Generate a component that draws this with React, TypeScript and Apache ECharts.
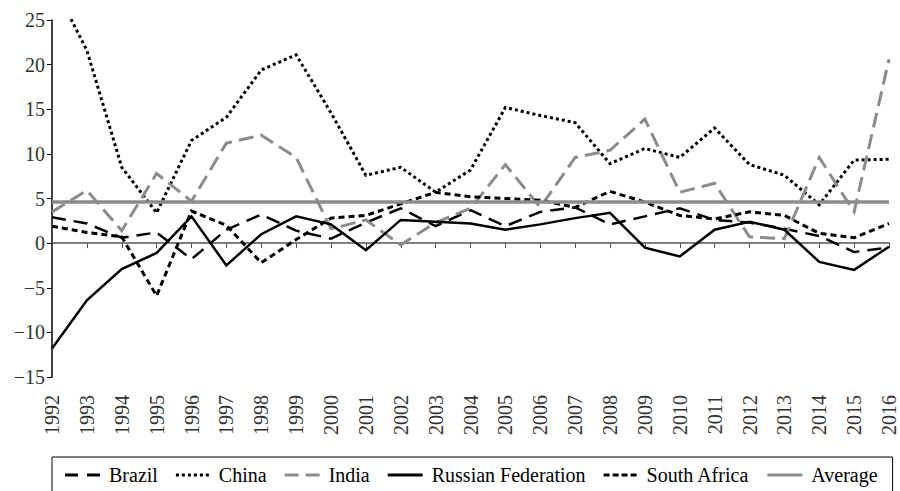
import React, { useEffect, useRef } from "react";
import * as echarts from "echarts";

const years = ["1992","1993","1994","1995","1996","1997","1998","1999","2000","2001","2002","2003","2004","2005","2006","2007","2008","2009","2010","2011","2012","2013","2014","2015","2016"];
const brazil = [2.9, 2.2, 0.6, 1.2, -1.8, 1.5, 3.2, 1.4, 0.5, 2.3, 3.9, 1.9, 3.7, 1.9, 3.5, 4.0, 2.1, 3.0, 3.9, 2.6, 2.3, 1.6, 0.8, -1.0, -0.5];
const china = [29.3, 21.6, 8.5, 3.4, 11.5, 14.1, 19.4, 21.1, 14.6, 7.6, 8.5, 5.7, 8.2, 15.2, 14.3, 13.5, 8.9, 10.6, 9.6, 12.9, 8.8, 7.6, 4.3, 9.3, 9.4];
const india = [3.5, 5.9, 1.4, 7.8, 4.7, 11.2, 12.1, 9.6, 1.6, 2.6, -0.2, 2.3, 3.9, 8.8, 4.0, 9.6, 10.4, 13.9, 5.7, 6.7, 0.7, 0.5, 9.6, 3.5, 20.6];
const russia = [-11.8, -6.4, -2.9, -1.1, 3.0, -2.5, 1.0, 3.0, 2.1, -0.8, 2.6, 2.4, 2.2, 1.5, 2.1, 2.8, 3.4, -0.5, -1.5, 1.5, 2.4, 1.5, -2.1, -3.0, -0.4];
const southAfrica = [1.9, 1.2, 0.7, -5.9, 3.6, 2.0, -2.2, 0.4, 2.8, 3.1, 4.4, 5.7, 5.2, 5.0, 4.8, 4.0, 5.8, 4.6, 3.1, 2.7, 3.5, 3.1, 1.1, 0.6, 2.2];
const average = years.map(() => 4.6);

const FONT = "'Liberation Serif', 'Times New Roman', serif";

const ICON_BRAZIL = "path://M0,0h13v3h-13z M22,0h13v3h-13z";
const ICON_CHINA = "path://M0,0h3v3h-3z M6,0h3v3h-3z M12,0h3v3h-3z M18,0h3v3h-3z M24,0h3v3h-3z M30,0h3v3h-3z";
const ICON_INDIA = "path://M0,0h14v3h-14z M21,0h14v3h-14z";
const ICON_SOLID = "path://M0,0h35v3h-35z";
const ICON_SA = "path://M0,0h6v3h-6z M9,0h6v3h-6z M18,0h6v3h-6z M27,0h6v3h-6z";

export default function App() {
  const ref = useRef<HTMLDivElement>(null);
  useEffect(() => {
    if (!ref.current) return;
    const chart = echarts.init(ref.current, undefined, { renderer: "svg" });
    const mk = (name: string, data: number[], color: string, width: number, type: any) => ({
      name,
      type: "line",
      data,
      xAxisIndex: 0,
      symbol: "none",
      showSymbol: false,
      clip: true,
      lineStyle: { color, width, type, cap: "butt", join: "miter" },
      itemStyle: { color },
    });
    chart.setOption({
      animation: false,
      backgroundColor: "#fff",
      textStyle: { fontFamily: FONT },
      grid: { left: 52, right: 11, top: 20, bottom: 114, containLabel: false },
      legend: {
        left: 52,
        top: 457,
        orient: "horizontal",
        borderColor: "#000",
        borderWidth: 1,
        padding: [8, 15, 20, 13],
        itemWidth: 35,
        itemHeight: 3,
        itemGap: 18,
        textStyle: { fontSize: 20, color: "#000", fontFamily: FONT, padding: [0, 0, 0, 4] },
        data: [
          { name: "Brazil", icon: ICON_BRAZIL },
          { name: "China", icon: ICON_CHINA },
          { name: "India", icon: ICON_INDIA },
          { name: "Russian Federation", icon: ICON_SOLID },
          { name: "South Africa", icon: ICON_SA },
          { name: "Average", icon: ICON_SOLID },
        ],
      },
      xAxis: [
        {
          type: "category",
          data: years,
          boundaryGap: false,
          axisLine: { show: true, onZero: true, lineStyle: { color: "#555", width: 1.5 } },
          axisTick: { show: true, length: 5, inside: false, lineStyle: { color: "#555", width: 1 } },
          axisLabel: { show: false },
          splitLine: { show: false },
        },
        {
          type: "category",
          data: years,
          position: "bottom",
          boundaryGap: false,
          axisLine: { show: false, onZero: false },
          axisTick: { show: false },
          axisLabel: { show: true, rotate: 90, margin: 18, fontSize: 20, color: "#333", fontFamily: FONT },
          splitLine: { show: false },
        },
      ],
      yAxis: {
        type: "value",
        min: -15,
        max: 25,
        interval: 5,
        axisLine: { show: true, lineStyle: { color: "#000", width: 1.5 } },
        axisTick: { show: true, length: 5, inside: false, lineStyle: { color: "#000" } },
        axisLabel: {
          fontSize: 20,
          color: "#333",
          margin: 7,
          fontFamily: FONT,
          formatter: (v: number) => (v < 0 ? "\u2212" + Math.abs(v) : String(v)),
        },
        splitLine: { show: false },
      },
      series: [
        mk("Brazil", brazil, "#000", 2.5, [14, 8]),
        mk("China", china, "#000", 3, [3, 3]),
        mk("India", india, "#8c8c8c", 3, [15, 7]),
        mk("Russian Federation", russia, "#000", 2.5, "solid"),
        mk("South Africa", southAfrica, "#000", 3, [6, 4]),
        mk("Average", average, "#8c8c8c", 3.5, "solid"),
      ],
    });
    return () => chart.dispose();
  }, []);
  return <div ref={ref} style={{ position: "fixed", left: 0, top: 0, width: 900, height: 491 }} />;
}
